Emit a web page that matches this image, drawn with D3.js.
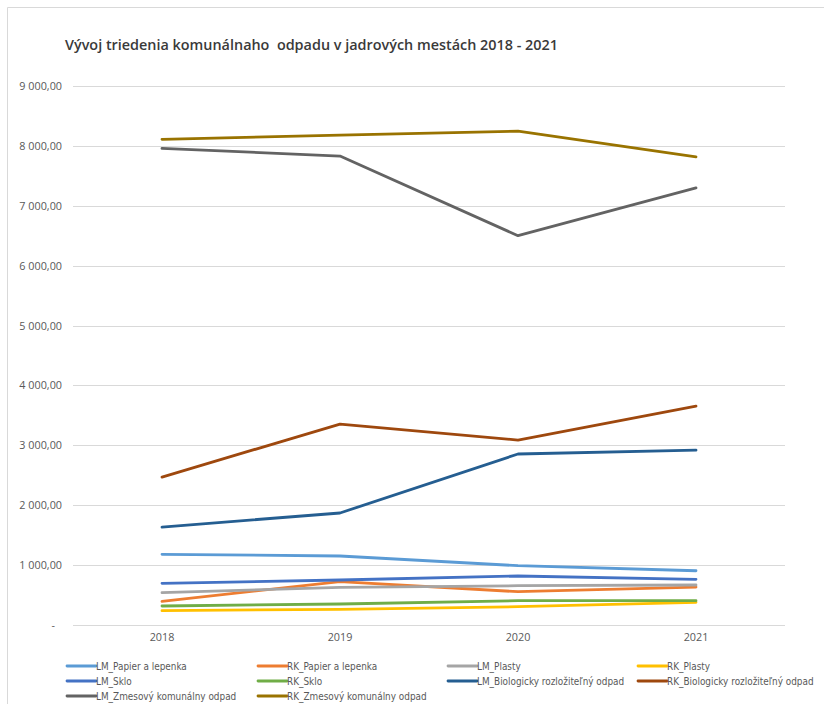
<!DOCTYPE html>
<html><head><meta charset="utf-8">
<script src="https://cdn.jsdelivr.net/npm/d3@7"></script>
<style>
body{margin:0;background:#fff;}
svg{display:block;}
</style></head>
<body><svg id="c" width="824" height="704"></svg>
<script>
const years = ["2018","2019","2020","2021"];
const yTicks = [0,1000,2000,3000,4000,5000,6000,7000,8000,9000];
const seriesNames = ["LM_Papier a lepenka","RK_Papier a lepenka","LM_Plasty","RK_Plasty","LM_Sklo","RK_Sklo","LM_Biologicky rozložiteľný odpad","RK_Biologicky rozložiteľný odpad","LM_Zmesový komunálny odpad","RK_Zmesový komunálny odpad"];
const seriesColors = ["#5B9BD5","#ED7D31","#A5A5A5","#FFC000","#4472C4","#70AD47","#255E91","#9E480E","#636363","#997300"];
const LM_Papier = [1180,1152,990,906];
const RK_Papier = [396,723,556,634];
const LM_Plasty = [539,629,656,668];
const RK_Plasty = [239,262,306,379];
const LM_Sklo = [696,751,818,763];
const RK_Sklo = [317,351,406,406];
const LM_Bio = [1636,1870,2855,2920];
const RK_Bio = [2470,3355,3088,3656];
const LM_Zmes = [7958,7830,6500,7300];
const RK_Zmes = [8110,8180,8247,7818];
const seriesValues = [LM_Papier,RK_Papier,LM_Plasty,RK_Plasty,LM_Sklo,RK_Sklo,LM_Bio,RK_Bio,LM_Zmes,RK_Zmes];

const svg = d3.select("#c");
svg.append("path").attr("d","M7.5,704 V7.5 H824").attr("fill","none").attr("stroke","#d9d9d9").attr("stroke-width",1);

svg.append("text").attr("x",65).attr("y",50)
  .attr("font-family","'Open Sans',sans-serif").attr("font-weight",600).attr("font-size",14.4)
  .attr("fill","#3a3a3a").style("white-space","pre")
  .text("Vývoj triedenia komunálnaho  odpadu v jadrových mestách 2018 - 2021");

const x = d3.scaleBand().domain(years).range([73,785]);
const y = d3.scaleLinear().domain([0,9000]).range([625,86]);

const fmt = v => v===0 ? "-" : d3.format(",.2f")(v).replace(/,/g," ").replace(".",",");
const grid = svg.append("g");
yTicks.forEach(t=>{
  grid.append("line").attr("x1",73).attr("x2",785).attr("y1",Math.round(y(t))+0.5).attr("y2",Math.round(y(t))+0.5)
    .attr("stroke","#d9d9d9").attr("stroke-width",1);
  grid.append("text").attr("x", t===0?55:62).attr("y",y(t)+4).attr("text-anchor","end")
    .attr("font-family","'Open Sans',sans-serif").attr("font-size",10.8).attr("fill","#595959").text(fmt(t));
});
years.forEach(yr=>{
  svg.append("text").attr("x",x(yr)+x.bandwidth()/2).attr("y",641).attr("text-anchor","middle")
    .attr("font-family","'Open Sans',sans-serif").attr("font-size",10.8).attr("fill","#595959").text(yr);
});

const line = d3.line().x((d,i)=>x(years[i])+x.bandwidth()/2).y(d=>y(d));
seriesValues.forEach((vals,k)=>{
  svg.append("path").attr("d",line(vals)).attr("fill","none").attr("stroke",seriesColors[k])
    .attr("stroke-width",2.8).attr("stroke-linejoin","round").attr("stroke-linecap","round");
});

const colX = [67,258,448,638];
const rowY = [666,681,696];
seriesNames.forEach((n,k)=>{
  const cx = colX[k%4], cy = rowY[Math.floor(k/4)];
  svg.append("line").attr("x1",cx).attr("x2",cx+29).attr("y1",cy).attr("y2",cy)
    .attr("stroke",seriesColors[k]).attr("stroke-width",2.8).attr("stroke-linecap","round");
  svg.append("text").attr("x",cx+29).attr("y",cy+3.5)
    .attr("font-family","'Liberation Sans Narrow','DejaVu Sans Condensed',sans-serif").attr("font-size",9.9)
    .attr("fill","#595959").text(n);
});
</script></body></html>
